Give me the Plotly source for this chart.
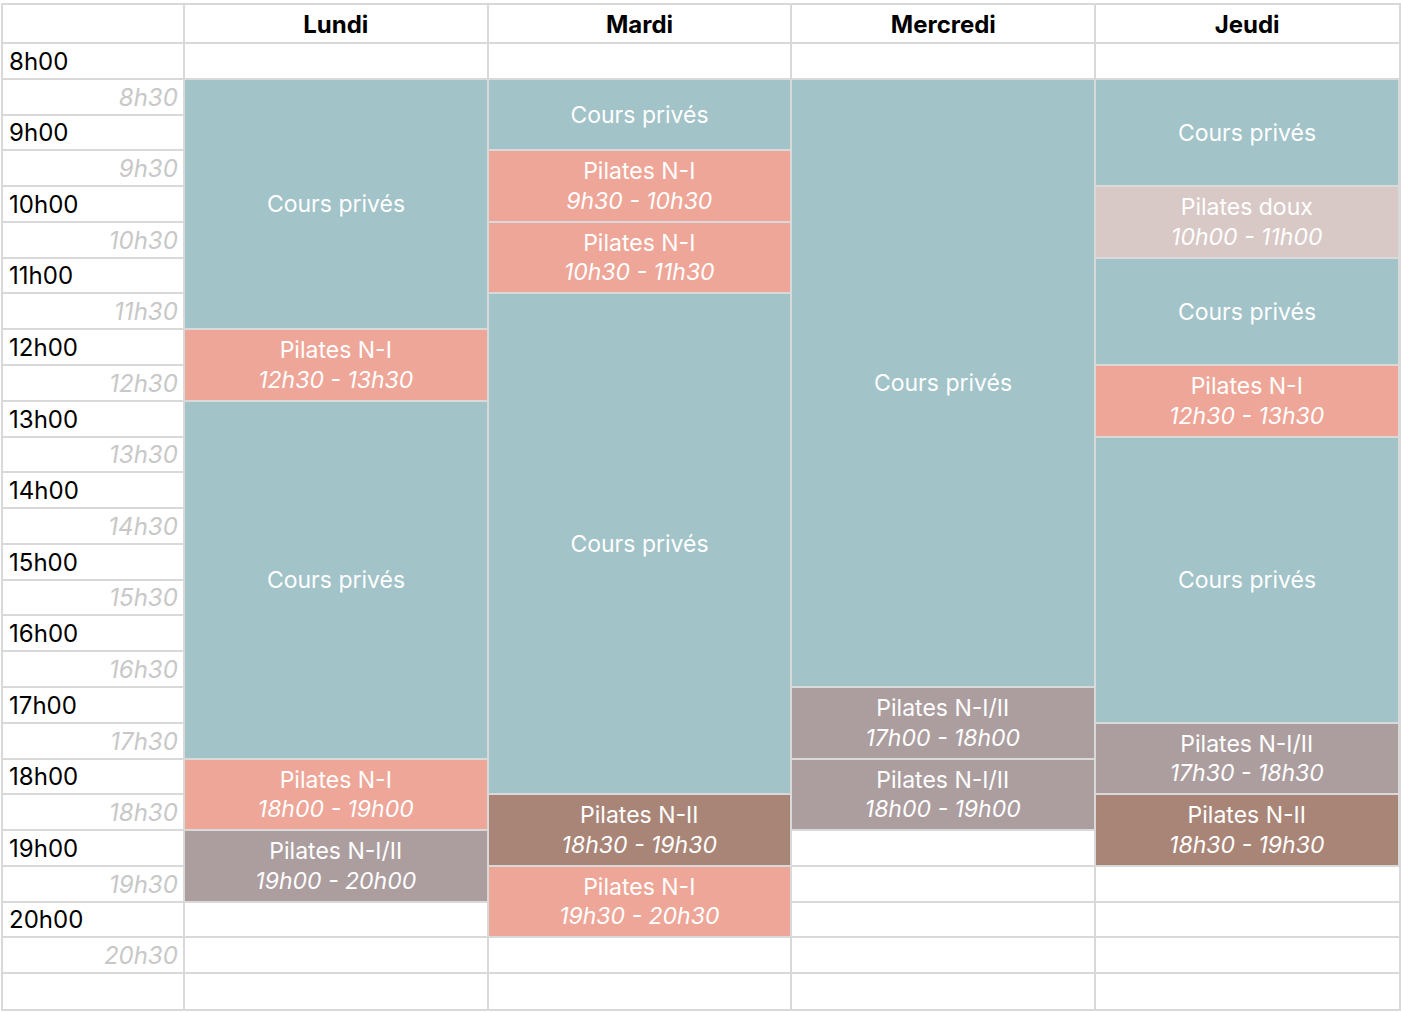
import plotly.graph_objects as go

# Days of the week (columns)
days = ["Lundi", "Mardi", "Mercredi", "Jeudi"]

# Time labels (left column)
full_hours = ["8h00", "9h00", "10h00", "11h00", "12h00", "13h00", "14h00",
              "15h00", "16h00", "17h00", "18h00", "19h00", "20h00"]
full_hour_vals = [8, 9, 10, 11, 12, 13, 14, 15, 16, 17, 18, 19, 20]
half_hours = ["8h30", "9h30", "10h30", "11h30", "12h30", "13h30", "14h30",
              "15h30", "16h30", "17h30", "18h30", "19h30", "20h30"]
half_hour_vals = [8.5, 9.5, 10.5, 11.5, 12.5, 13.5, 14.5,
                  15.5, 16.5, 17.5, 18.5, 19.5, 20.5]

# Blocks: day index, start, end (as drawn), title, hours label, kind
block_day = [0, 0, 0, 0, 0,
             1, 1, 1, 1, 1, 1,
             2, 2, 2,
             3, 3, 3, 3, 3, 3, 3]
block_start = [8.5, 12.0, 13.0, 18.0, 19.0,
               8.5, 9.5, 10.5, 11.5, 18.5, 19.5,
               8.5, 17.0, 18.0,
               8.5, 10.0, 11.0, 12.5, 13.5, 17.5, 18.5]
block_end = [12.0, 13.0, 18.0, 19.0, 20.0,
             9.5, 10.5, 11.5, 18.5, 19.5, 20.5,
             17.0, 18.0, 19.0,
             10.0, 11.0, 12.5, 13.5, 17.5, 18.5, 19.5]
block_title = ["Cours privés", "Pilates N-I", "Cours privés", "Pilates N-I", "Pilates N-I/II",
               "Cours privés", "Pilates N-I", "Pilates N-I", "Cours privés", "Pilates N-II", "Pilates N-I",
               "Cours privés", "Pilates N-I/II", "Pilates N-I/II",
               "Cours privés", "Pilates doux", "Cours privés", "Pilates N-I", "Cours privés",
               "Pilates N-I/II", "Pilates N-II"]
block_hours = ["", "12h30 - 13h30", "", "18h00 - 19h00", "19h00 - 20h00",
               "", "9h30 - 10h30", "10h30 - 11h30", "", "18h30 - 19h30", "19h30 - 20h30",
               "", "17h00 - 18h00", "18h00 - 19h00",
               "", "10h00 - 11h00", "", "12h30 - 13h30", "", "17h30 - 18h30", "18h30 - 19h30"]
block_kind = ["prive", "n1", "prive", "n1", "n12",
              "prive", "n1", "n1", "prive", "n2", "n1",
              "prive", "n12", "n12",
              "prive", "doux", "prive", "n1", "prive", "n12", "n2"]

kind_colors = {
    "prive": "#a2c3c8",
    "n1": "#eea698",
    "n12": "#ac9e9f",
    "n2": "#a98577",
    "doux": "#d8c9c6",
}

FONT = "Inter, Open Sans, sans-serif"
GRID = "#d9d9d9"
TIME_COL = 181 / 304  # width of the time column relative to a day column
Y_TOP = 7.469         # header row is a little taller than the half-hour rows
NUDGE = 0.04          # small downward shift for the label texts

fig = go.Figure()

# Course blocks as bars
texts = []
for t, h in zip(block_title, block_hours):
    texts.append(t + ("<br><i>" + h + "</i>" if h else ""))

fig.add_trace(go.Bar(
    x=[d + 0.5 for d in block_day],
    base=block_start,
    y=[e - s for s, e in zip(block_start, block_end)],
    width=1,
    marker=dict(color=[kind_colors[k] for k in block_kind],
                line=dict(color=GRID, width=2)),
    text=texts,
    textposition="inside",
    insidetextanchor="middle",
    textangle=0,
    insidetextfont=dict(family=FONT, size=23, color="white"),
    hoverinfo="skip",
    showlegend=False,
))

# Day headers
fig.add_trace(go.Scatter(
    x=[i + 0.5 for i in range(len(days))],
    y=[(Y_TOP + 8) / 2 + NUDGE] * len(days),
    mode="text",
    text=["<b>" + d + "</b>" for d in days],
    textposition="middle center",
    textfont=dict(family=FONT, size=24, color="black"),
    hoverinfo="skip",
    showlegend=False,
))

# Full hour labels
fig.add_trace(go.Scatter(
    x=[-TIME_COL + 0.02] * len(full_hours),
    y=[v + 0.25 + NUDGE for v in full_hour_vals],
    mode="text",
    text=full_hours,
    textposition="middle right",
    textfont=dict(family=FONT, size=24, color="black"),
    hoverinfo="skip",
    showlegend=False,
))

# Half hour labels
fig.add_trace(go.Scatter(
    x=[-0.02] * len(half_hours),
    y=[v + 0.25 + NUDGE for v in half_hour_vals],
    mode="text",
    text=["<i>" + h + "</i>" for h in half_hours],
    textposition="middle left",
    textfont=dict(family=FONT, size=24, color="#c8c8c8"),
    hoverinfo="skip",
    showlegend=False,
))

fig.update_layout(
    width=1401,
    height=1012,
    autosize=False,
    margin=dict(l=3, r=0, t=5, b=3, pad=0),
    plot_bgcolor="white",
    paper_bgcolor="white",
    bargap=0,
    xaxis=dict(
        range=[-TIME_COL, 4],
        tickvals=[0, 1, 2, 3],
        showticklabels=False,
        ticks="",
        showgrid=True,
        gridcolor=GRID,
        gridwidth=2,
        zeroline=False,
        showline=True,
        mirror=True,
        linecolor=GRID,
        linewidth=2,
        fixedrange=True,
    ),
    yaxis=dict(
        range=[21.5, Y_TOP],
        tickvals=[8 + 0.5 * i for i in range(27)],
        showticklabels=False,
        ticks="",
        showgrid=True,
        gridcolor=GRID,
        gridwidth=2,
        zeroline=False,
        showline=True,
        mirror=True,
        linecolor=GRID,
        linewidth=2,
        fixedrange=True,
    ),
)

fig.write_html("out.html", config={"displayModeBar": False},
               post_script="document.body.style.margin='0';")
